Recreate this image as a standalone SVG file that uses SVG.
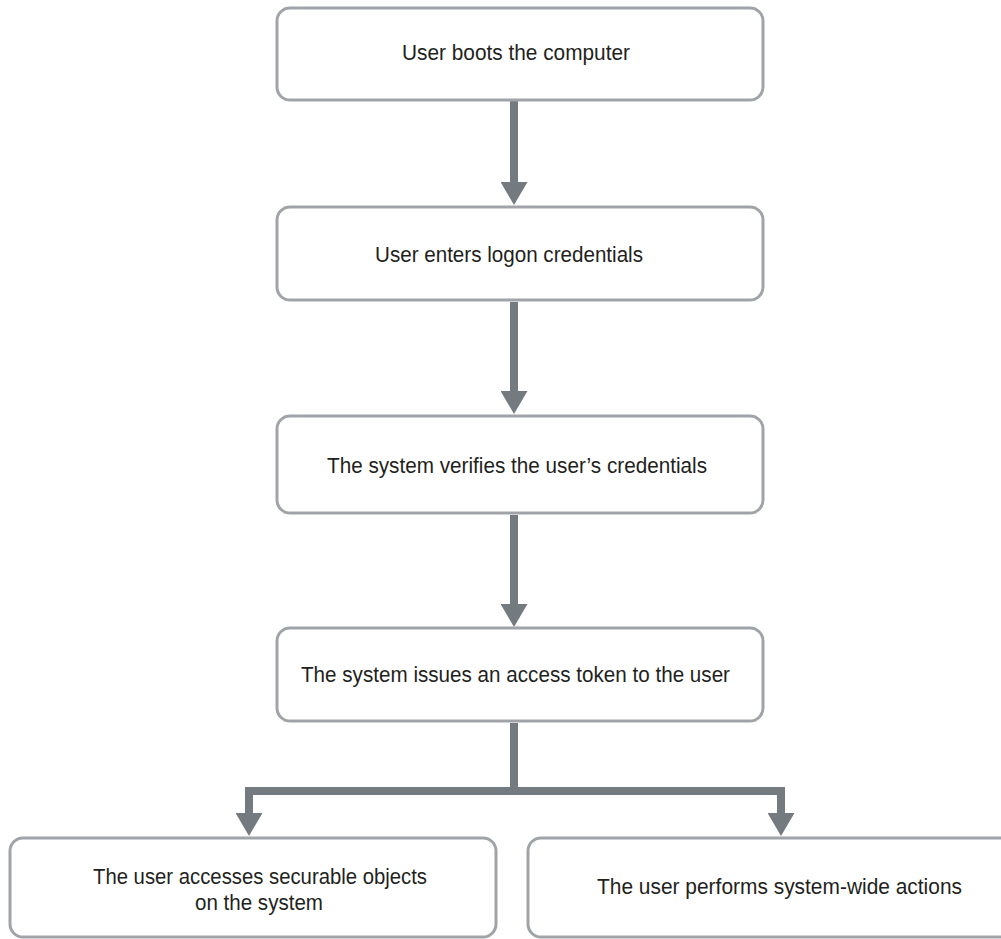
<svg xmlns="http://www.w3.org/2000/svg" width="1001" height="939" viewBox="0 0 1001 939">
<style>
.box{fill:#ffffff;stroke:#a0a4a9;stroke-width:3}
.lbl{font-family:"Liberation Sans",Arial,sans-serif;font-size:22.5px;fill:#231f20;text-anchor:middle}
.conn{fill:none;stroke:#737a80;stroke-width:8;stroke-linejoin:miter}
</style>
<defs>
<marker id="ah" viewBox="0 0 23 27" refX="2" refY="13.5" markerWidth="23" markerHeight="27" markerUnits="userSpaceOnUse" orient="auto">
<path d="M0,0 L23,13.5 L0,27 Z" fill="#737a80"/>
</marker>
</defs>
<rect width="1001" height="939" fill="#ffffff"/>
<g id="connectors">
<path class="conn" d="M514,101 V184" marker-end="url(#ah)"/>
<path class="conn" d="M514,302 V393" marker-end="url(#ah)"/>
<path class="conn" d="M514,515 V606" marker-end="url(#ah)"/>
<path class="conn" d="M514,723 V791"/>
<path class="conn" d="M514,791 H249 V815" marker-end="url(#ah)"/>
<path class="conn" d="M514,791 H781 V815" marker-end="url(#ah)"/>
</g>
<g id="n1">
<rect class="box" x="277" y="8" width="486" height="92" rx="13"/>
<text class="lbl" x="516" y="60" textLength="228" lengthAdjust="spacingAndGlyphs">User boots the computer</text>
</g>
<g id="n2">
<rect class="box" x="277" y="207" width="486" height="93" rx="13"/>
<text class="lbl" x="509" y="262" textLength="268" lengthAdjust="spacingAndGlyphs">User enters logon credentials</text>
</g>
<g id="n3">
<rect class="box" x="277" y="416" width="486" height="97" rx="13"/>
<text class="lbl" x="517" y="473" textLength="380" lengthAdjust="spacingAndGlyphs">The system verifies the user’s credentials</text>
</g>
<g id="n4">
<rect class="box" x="277" y="628" width="486" height="93" rx="13"/>
<text class="lbl" x="515.5" y="682" textLength="429" lengthAdjust="spacingAndGlyphs">The system issues an access token to the user</text>
</g>
<g id="n5">
<rect class="box" x="10" y="838" width="486" height="99" rx="13"/>
<text class="lbl" x="260" y="884" textLength="334" lengthAdjust="spacingAndGlyphs">The user accesses securable objects</text>
<text class="lbl" x="259" y="910" textLength="128" lengthAdjust="spacingAndGlyphs">on the system</text>
</g>
<g id="n6">
<rect class="box" x="528" y="838" width="486" height="99" rx="13"/>
<text class="lbl" x="779.5" y="894" textLength="365" lengthAdjust="spacingAndGlyphs">The user performs system-wide actions</text>
</g>
</svg>
